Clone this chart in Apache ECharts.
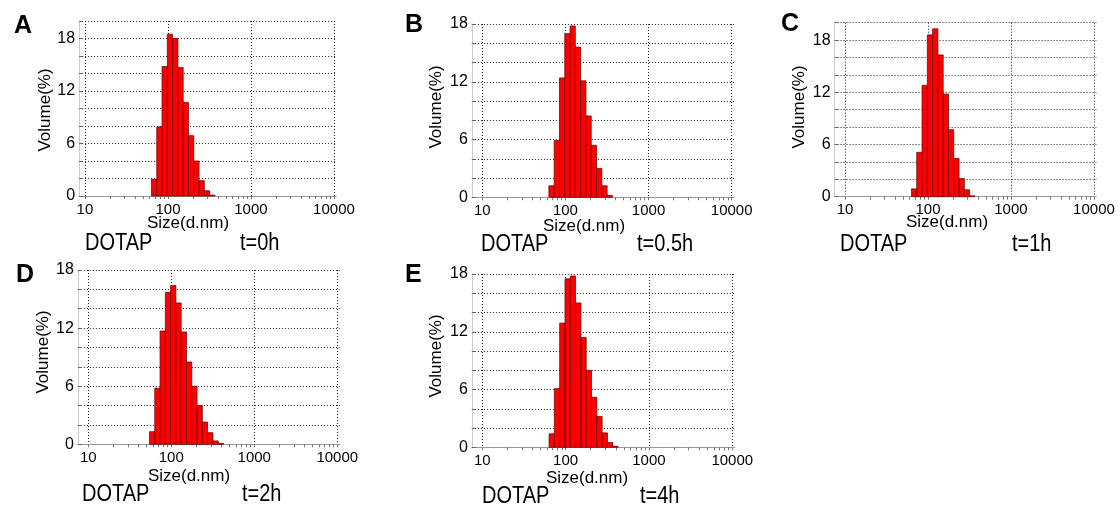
<!DOCTYPE html>
<html>
<head>
<meta charset="utf-8">
<script src="https://cdn.jsdelivr.net/npm/echarts@6/dist/echarts.min.js"></script>
<style>
html, body { margin: 0; padding: 0; background: #fff; }
#main { width: 1120px; height: 509px; }
</style>
</head>
<body>
<div id="main"></div>
<script>
// size classes of the instrument (bin centres, d.nm)
var sizes = [58.77, 68.06, 78.82, 91.28, 105.7, 122.4, 141.8, 164.2, 190.1, 220.2, 255.0, 295.3, 342.0, 396.1];

// volume (%) per size class, one list per time point
var volA = [0, 1.9, 7.9, 14.8, 18.5, 18.0, 14.7, 10.7, 6.9, 4.0, 1.75, 0.6, 0.1, 0];
var volB = [0, 1.2, 5.9, 12.4, 17.0, 17.8, 15.6, 12.1, 8.45, 5.4, 3.0, 1.2, 0.2, 0];
var volC = [0, 0.9, 5.1, 12.8, 18.6, 19.3, 16.3, 11.8, 7.7, 4.4, 2.1, 0.8, 0.1, 0];
var volD = [1.3, 5.8, 11.7, 15.7, 16.4, 14.6, 11.6, 8.5, 6.0, 4.0, 2.3, 1.2, 0.35, 0.1];
var volE = [0, 1.4, 6.1, 12.9, 17.5, 17.8, 15.0, 11.4, 8.0, 5.2, 3.2, 1.5, 0.5, 0.1];

var xLabels = [10, 100, 1000, 10000];
var xMinor = [10, 20, 30, 40, 50, 60, 70, 80, 90, 100, 200, 300, 400, 500, 600, 700, 800, 900,
    1000, 2000, 3000, 4000, 5000, 6000, 7000, 8000, 9000, 10000];
var yLabels = [0, 6, 12, 18];

var letters = ['A', 'B', 'C', 'D', 'E'];
var times = ['t=0h', 't=0.5h', 't=1h', 't=2h', 't=4h'];
var sample = 'DOTAP';
var volumes = [volA, volB, volC, volD, volE];

// plot boxes and where the texts sit
var panels = [
    { left: 79.1, width: 257.3, top: 21, height: 175, xMin: 8.5, yMax: 20,
      letter: [14, 26], yName: [45, 110], xName: [188, 223], dotap: [85, 244], time: [240, 244] },
    { left: 471.9, width: 262.2, top: 24, height: 173.3, xMin: 7.5, yMax: 18,
      letter: [405, 25], yName: [436, 107], xName: [584, 226], dotap: [481, 245], time: [637, 245] },
    { left: 834.6, width: 261.8, top: 22.7, height: 174, xMin: 7.5, yMax: 20,
      letter: [781, 24], yName: [799, 107], xName: [947, 222], dotap: [840, 245], time: [1012, 245] },
    { left: 77.9, width: 261.8, top: 270, height: 174.3, xMin: 7.5, yMax: 18,
      letter: [16, 275], yName: [43, 352], xName: [189, 476], dotap: [82, 495], time: [242, 495] },
    { left: 471.9, width: 262.8, top: 274, height: 173.3, xMin: 7.5, yMax: 18,
      letter: [405, 275], yName: [436, 356], xName: [587, 478], dotap: [482, 497], time: [640, 497] }
];

var font = 'Liberation Sans, Arial, sans-serif';
var binHalf = Math.sqrt(sizes[1] / sizes[0]);

function renderBin(params, api) {
    var c = api.value(0);
    var v = api.value(1);
    if (!v) {
        return;
    }
    var p0 = api.coord([c / binHalf, v]);
    var p1 = api.coord([c * binHalf, 0]);
    return {
        type: 'rect',
        shape: { x: p0[0], y: p0[1], width: p1[0] - p0[0], height: p1[1] - p0[1] },
        style: { fill: '#ff0000', stroke: '#5a0000', lineWidth: 0.7 }
    };
}

var grids = [], xAxes = [], yAxes = [], series = [], graphics = [];

panels.forEach(function (p, i) {
    grids.push({ left: p.left, top: p.top, width: p.width, height: p.height });

    // decades: labels + dotted grid
    xAxes.push({
        type: 'log', gridIndex: i, position: 'bottom', min: p.xMin, max: 10700,
        axisLine: { show: true, lineStyle: { color: '#999', width: 1 } },
        axisTick: { show: false },
        axisLabel: { customValues: xLabels, color: '#000', fontSize: 15, fontFamily: font, margin: 6,
            formatter: function (v) { return String(Math.round(v)); } },
        splitLine: { show: true, showMinLine: false, showMaxLine: false,
            lineStyle: { type: [1, 2], color: '#222', width: 1 } }
    });
    // log minor ticks
    xAxes.push({
        type: 'log', gridIndex: i, position: 'bottom', min: p.xMin, max: 10700,
        axisLine: { show: false },
        axisTick: { show: true, customValues: xMinor, length: 3, lineStyle: { color: '#777' } },
        axisLabel: { show: false },
        splitLine: { show: false }
    });

    yAxes.push({
        type: 'value', gridIndex: i, min: 0, max: p.yMax, interval: 2,
        axisLine: { show: true, lineStyle: { color: '#ccc' } },
        axisTick: { show: true, inside: true, length: 4, lineStyle: { color: '#666' } },
        axisLabel: { customValues: yLabels, color: '#000', fontSize: 16, fontFamily: font, margin: 4 },
        splitLine: { show: true, showMinLine: false,
            lineStyle: { type: [1, 2], color: '#222', width: 1 } }
    });

    series.push({
        type: 'custom',
        xAxisIndex: i * 2,
        yAxisIndex: i,
        renderItem: renderBin,
        encode: { x: 0, y: 1 },
        data: sizes.map(function (s, k) { return [s, volumes[i][k]]; })
    });

    graphics.push(
        { type: 'text', x: p.letter[0], y: p.letter[1],
          style: { text: letters[i], font: 'bold 25px ' + font, fill: '#000', textVerticalAlign: 'middle' } },
        { type: 'text', x: p.yName[0], y: p.yName[1], rotation: Math.PI / 2,
          style: { text: 'Volume(%)', font: '17px ' + font, fill: '#000', textAlign: 'center', textVerticalAlign: 'middle' } },
        { type: 'text', x: p.xName[0], y: p.xName[1],
          style: { text: 'Size(d.nm)', font: '17px ' + font, fill: '#000', textAlign: 'center', textVerticalAlign: 'middle' } },
        { type: 'text', x: p.dotap[0], y: p.dotap[1], scaleY: 1.15,
          style: { text: sample, font: '20px ' + font, fill: '#000', textVerticalAlign: 'middle' } },
        { type: 'text', x: p.time[0], y: p.time[1], scaleY: 1.15,
          style: { text: times[i], font: '20px ' + font, fill: '#000', textVerticalAlign: 'middle' } }
    );
});

var myChart = echarts.init(document.getElementById('main'));
var option = {
    backgroundColor: '#fff',
    animation: false,
    grid: grids,
    xAxis: xAxes,
    yAxis: yAxes,
    series: series,
    graphic: graphics
};
myChart.setOption(option);
</script>
</body>
</html>
